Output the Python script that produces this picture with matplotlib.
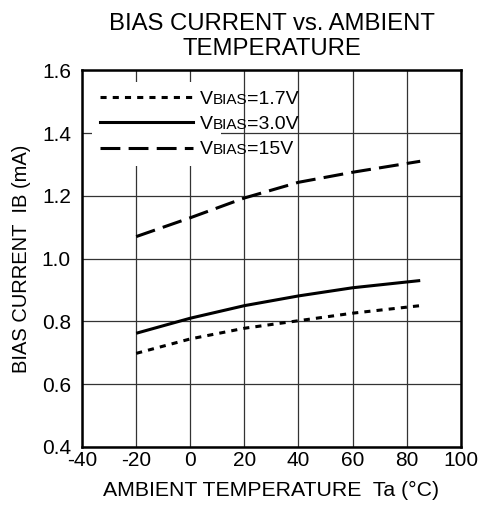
import matplotlib
matplotlib.use("Agg")
import matplotlib.pyplot as plt
from matplotlib.lines import Line2D

plt.rcParams['font.family'] = ['Liberation Sans', 'DejaVu Sans']

# temperature points (°C) and bias current (mA)
temp = [-20, 0, 20, 40, 60, 85]
ib_1v7 = [0.698, 0.744, 0.778, 0.802, 0.826, 0.850]
ib_3v0 = [0.762, 0.810, 0.850, 0.881, 0.907, 0.930]
ib_15v = [1.070, 1.130, 1.193, 1.243, 1.275, 1.310]

legend_values = ['=1.7V', '=3.0V', '=15V']
x_ticks = [-40, -20, 0, 20, 40, 60, 80, 100]
y_ticks = [0.4, 0.6, 0.8, 1.0, 1.2, 1.4, 1.6]

fig = plt.figure(figsize=(4.8, 5.09), dpi=100)
ax = fig.add_axes([0.171, 0.122, 0.789, 0.740])

lw = 2.2
styles = [(0, (2.0, 2.0)), '-', (0, (6.5, 2.7))]
series = [ib_1v7, ib_3v0, ib_15v]
for ys, ls in zip(series, styles):
    ax.plot(temp, ys, color='black', lw=lw, linestyle=ls, solid_capstyle='butt',
            dash_capstyle='butt', zorder=3)

ax.set_xlim(-40, 100)
ax.set_ylim(0.4, 1.6)
ax.set_xticks(x_ticks)
ax.set_yticks(y_ticks)
ax.set_xticklabels([str(t) for t in x_ticks])
ax.set_yticklabels(['%.1f' % v for v in y_ticks])
ax.tick_params(length=0, labelsize=15, pad=8)
ax.tick_params(axis='x', pad=3)
ax.grid(True, color='#333333', lw=0.9)
for sp in ax.spines.values():
    sp.set_linewidth(1.8)
    sp.set_zorder(4)

ax.set_title('BIAS CURRENT vs. AMBIENT\nTEMPERATURE', fontsize=17.2, pad=11,
             linespacing=1.15)
ax.set_xlabel('AMBIENT TEMPERATURE  Ta (\u00b0C)', fontsize=15.3, labelpad=8)
ax.set_ylabel('BIAS CURRENT  IB (mA)', fontsize=14.5, labelpad=8)

handles = [Line2D([], [], color='black', lw=lw, linestyle=ls,
                  dash_capstyle='butt') for ls in styles]
leg = ax.legend(handles, ['V', 'V', 'V'], loc='upper left',
                bbox_to_anchor=(0.026, 0.968), frameon=True, fancybox=False,
                framealpha=1.0, edgecolor='white', fontsize=14,
                handlelength=4.8, handletextpad=0.35, labelspacing=0.4,
                borderpad=0.4, borderaxespad=0.0)
leg.get_frame().set_linewidth(0)
leg.set_zorder(3.5)

# small-caps "BIAS" after the V, then the value
for txt, val in zip(leg.get_texts(), legend_values):
    small = ax.annotate('BIAS', xy=(1, 0), xycoords=txt, va='bottom', ha='left',
                        fontsize=11, xytext=(0, 0.7), textcoords='offset points',
                        zorder=5)
    ax.annotate(val, xy=(1, 0), xycoords=small, va='bottom', ha='left',
                fontsize=14, xytext=(0, -0.7), textcoords='offset points',
                zorder=5)

fig.savefig('out.png', dpi=100, facecolor='white')
